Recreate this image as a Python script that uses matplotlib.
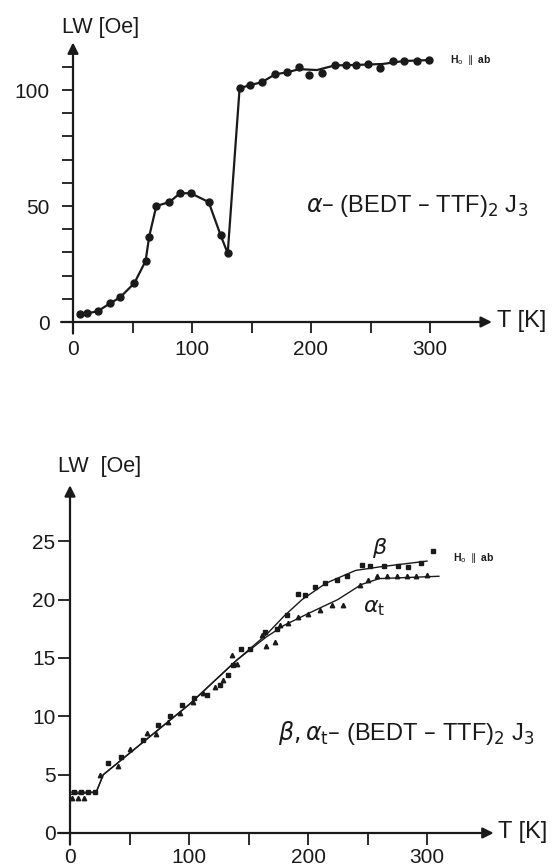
import matplotlib
matplotlib.use("Agg")
import matplotlib.pyplot as plt

plt.rcParams["font.family"] = ["Liberation Sans", "DejaVu Sans"]
plt.rcParams["mathtext.fontset"] = "dejavusans"

# --- top panel: alpha-(BEDT-TTF)2 J3 ---
top_T = [6, 12, 21, 31, 39.5, 51.5, 61, 64, 70, 81, 90, 99, 114, 124, 130,
         140, 149, 158.5, 170, 180, 190, 198, 209, 220, 229, 238, 248, 258,
         269, 278, 289, 299]
top_LW = [3.4, 3.7, 4.7, 8.0, 10.6, 16.7, 26.3, 36.8, 50.0, 51.7, 55.5, 55.5,
          51.7, 37.5, 29.6, 100.7, 102.2, 103.3, 106.8, 107.6, 110.0, 106.5,
          107.2, 110.8, 110.8, 110.8, 111.2, 109.3, 112.5, 112.5, 112.5, 112.9]
top_line_T = [6, 12, 21, 31, 39.5, 51.5, 61, 64, 70, 81, 90, 99, 114, 124, 130,
              140, 149, 158.5, 170, 180, 190, 205, 220, 238, 248, 260, 278, 299]
top_line_LW = [3.4, 3.7, 4.7, 8.0, 10.6, 16.7, 26.3, 36.8, 50.0, 51.7, 55.5,
               55.5, 51.7, 37.5, 29.6, 100.7, 102.2, 103.3, 106.8, 107.6, 109.0,
               108.6, 110.6, 110.8, 111.0, 111.2, 112.5, 112.9]
top_yticks = list(range(0, 111, 10))
top_ylabels = ["0", "", "", "", "", "50", "", "", "", "", "100", ""]

# --- bottom panel: beta, alpha_t-(BEDT-TTF)2 J3 ---
beta_T = [3, 9, 15, 21, 32, 43, 61.6, 74, 84, 94, 104, 115, 126, 133, 137,
          144, 151, 164, 173.7, 182, 192, 197.5, 206, 214, 224, 232.5, 245,
          252, 264, 276, 284, 295, 305]
beta_LW = [3.5, 3.5, 3.5, 3.5, 6.0, 6.5, 8.0, 9.25, 10.0, 11.0, 11.6, 11.8,
           12.7, 13.5, 14.4, 15.8, 15.8, 17.25, 17.5, 18.7, 20.5, 20.4, 21.1,
           21.4, 21.7, 22.0, 23.0, 22.9, 22.9, 22.9, 22.8, 23.1, 24.2]
alpha_T = [2, 7, 12, 25, 40.6, 50.4, 64.4, 72.3, 82.6, 92.4, 103.6, 112,
           121.8, 128.8, 136, 140, 161, 164.7, 172, 176.5, 183.4, 192, 200,
           210, 220, 229.7, 243.7, 250.7, 257.7, 266, 274.5, 283, 291, 299.7]
alpha_LW = [3.0, 3.0, 3.0, 5.0, 5.74, 7.2, 8.6, 8.5, 9.5, 10.25, 11.25, 12.0,
            12.5, 13.1, 15.25, 14.5, 17.0, 16.0, 16.4, 17.8, 18.0, 18.5, 18.8,
            19.1, 19.5, 19.5, 21.25, 21.7, 22.0, 22.0, 22.0, 22.0, 22.0, 22.1]
beta_curve_T = [0, 22, 28, 40, 100, 140, 165, 180, 195, 215, 240, 260, 300]
beta_curve_LW = [3.5, 3.5, 5.0, 6.0, 11.0, 14.8, 17.0, 18.6, 20.0, 21.4, 22.5,
                 22.8, 23.3]
alpha_curve_T = [0, 22, 28, 40, 100, 140, 165, 180, 200, 225, 245, 260, 310]
alpha_curve_LW = [3.3, 3.5, 5.0, 6.0, 11.0, 14.8, 16.8, 17.8, 18.8, 20.0,
                  21.3, 21.8, 22.0]

W, H = 553, 866
INK = "#1a1a1a"


def add_axes_px(fig, x0, px_per_x, y0, px_per_y, xlim, ylim):
    # place axes so that data (0,0) lands on pixel (x0, y0)
    left = x0 + xlim[0] * px_per_x
    right = x0 + xlim[1] * px_per_x
    bottom = y0 - ylim[0] * px_per_y
    top = y0 - ylim[1] * px_per_y
    ax = fig.add_axes([left / W, (H - bottom) / H, (right - left) / W, (bottom - top) / H])
    ax.set_xlim(*xlim)
    ax.set_ylim(*ylim)
    for side in ax.spines.values():
        side.set_visible(False)
    ax.spines["left"].set_position(("data", 0))
    ax.spines["bottom"].set_position(("data", 0))
    ax.patch.set_alpha(0)
    return ax


def draw_axes(ax, x_start, x_end, y_start, y_end):
    arrow = dict(arrowstyle="-|>", lw=1.6, color=INK, mutation_scale=16, shrinkA=0, shrinkB=0)
    ax.annotate("", xy=(x_end, 0), xytext=(x_start, 0), arrowprops=arrow)
    ax.annotate("", xy=(0, y_end), xytext=(0, y_start), arrowprops=arrow)


fig = plt.figure(figsize=(W / 100, H / 100), dpi=100)

# top panel
ax1 = add_axes_px(fig, 73, 1.19, 322, 2.32, (-20, 400), (-15, 130))
draw_axes(ax1, -10, 352, -5, 120.5)
ax1.plot(top_line_T, top_line_LW, color=INK, lw=1.6, zorder=2)
ax1.plot(top_T, top_LW, "o", color=INK, ms=5, zorder=3)
ax1.set_xticks([0, 50, 100, 150, 200, 250, 300])
ax1.set_xticklabels(["0", "", "100", "", "200", "", "300"])
ax1.set_yticks(top_yticks)
ax1.set_yticklabels(top_ylabels)
ax1.tick_params(axis="both", direction="out", length=8, width=1.3, color=INK,
                labelsize=15, labelcolor=INK)
ax1.tick_params(axis="y", pad=9)
ax1.tick_params(axis="x", pad=5)
ax1.text(23.5, 127, "LW [Oe]", fontsize=15.5, ha="center", va="center", color=INK)
ax1.text(356, 0.5, "T [K]", fontsize=17, ha="left", va="center", color=INK)
ax1.text(317, 113, r"H$_\mathrm{o}$ $\parallel$ ab", fontsize=7.5, fontweight="bold",
         ha="left", va="center", color=INK)
ax1.text(196, 50, r"$\alpha$– (BEDT – TTF)$_2$ J$_3$", fontsize=17,
         ha="left", va="center", color=INK)

# bottom panel
ax2 = add_axes_px(fig, 70, 1.19, 833, 11.67, (-20, 400), (-2.5, 32))
draw_axes(ax2, -10, 356, -1.0, 29.8)
ax2.plot(beta_curve_T, beta_curve_LW, color=INK, lw=1.0, zorder=2)
ax2.plot(alpha_curve_T, alpha_curve_LW, color=INK, lw=1.0, zorder=2)
ax2.plot(beta_T, beta_LW, "s", color=INK, ms=3, zorder=3)
ax2.plot(alpha_T, alpha_LW, "^", color=INK, ms=3.2, zorder=3)
ax2.set_xticks([0, 50, 100, 150, 200, 250, 300])
ax2.set_xticklabels(["0", "", "100", "", "200", "", "300"])
ax2.set_yticks([0, 5, 10, 15, 20, 25])
ax2.tick_params(axis="both", direction="out", length=8.5, width=1.3, color=INK,
                labelsize=15, labelcolor=INK, pad=2)
ax2.text(25, 31.4, "LW  [Oe]", fontsize=15.5, ha="center", va="center", color=INK)
ax2.text(360, 0.1, "T [K]", fontsize=17, ha="left", va="center", color=INK)
ax2.text(322, 23.6, r"H$_\mathrm{o}$ $\parallel$ ab", fontsize=7.5, fontweight="bold",
         ha="left", va="center", color=INK)
ax2.text(260, 24.4, r"$\beta$", fontsize=16, ha="center", va="center", color=INK)
ax2.text(256, 19.3, r"$\alpha_\mathrm{t}$", fontsize=16, ha="center", va="center", color=INK)
ax2.text(175, 8.6, r"$\beta,\alpha_\mathrm{t}$– (BEDT – TTF)$_2$ J$_3$", fontsize=17,
         ha="left", va="center", color=INK)

fig.savefig("out.png", dpi=100, facecolor="white")
